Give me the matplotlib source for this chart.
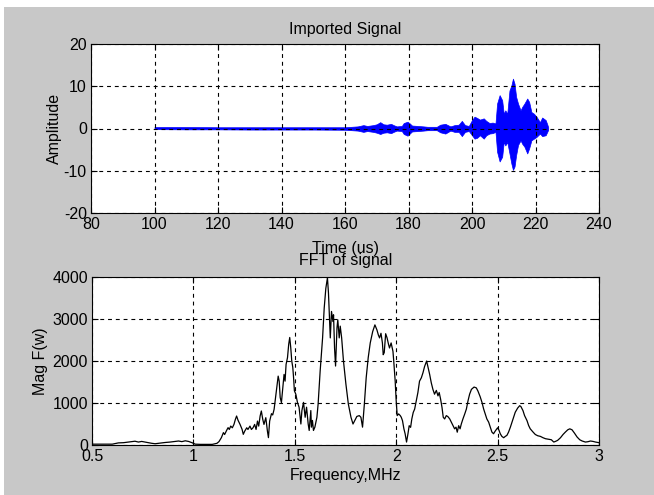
import numpy as np
import matplotlib
matplotlib.use('Agg')
import matplotlib.pyplot as plt
from matplotlib.patches import Rectangle

plt.rcParams['font.family'] = ['Liberation Sans', 'DejaVu Sans']
plt.rcParams['axes.unicode_minus'] = False

# imported signal, read as an envelope (time in us, upper / lower amplitude)
sig_t = [100, 110, 120, 130, 140, 150, 160, 162, 164, 165.8, 167, 168.9, 170, 171.1,
         172.1, 173.2, 174.5, 175.3, 176.3, 177.9, 178.5, 179.7, 180.4, 181.1, 183,
         184.7, 186, 188.9, 190, 191.6, 193.2, 194.5, 195.8, 196.8, 197.8, 199, 200,
         200.8, 201.6, 202.5, 203.7, 204.5, 205.5, 206.5, 207.4, 207.9, 208.7, 209.5,
         210, 210.5, 211.1, 211.8, 212.4, 212.9, 213.4, 213.9, 214.5, 215.3, 215.8,
         216.5, 217.4, 218, 218.7, 219.5, 220.3, 221.4, 222.1, 223.2, 223.7, 224]
sig_hi = [0.35, 0.35, 0.3, 0.3, 0.3, 0.3, 0.3, 0.4, 0.5, 0.8, 0.6, 0.8, 1.0, 1.5,
          1.0, 0.9, 1.1, 0.8, 0.5, 0.6, 1.3, 1.6, 1.2, 0.7, 0.6,
          0.5, 0.4, 0.4, 0.9, 1.1, 0.5, 0.8, 0.9, 1.8, 0.8, 0.6, 2.0,
          2.8, 2.5, 2.1, 2.4, 1.8, 1.3, 1.4, 1.2, 5.9, 7.9, 6.7,
          3.5, 4.3, 3.5, 9.0, 10.2, 11.8, 10.6, 7.5, 5.9, 4.3, 5.1,
          5.9, 7.1, 6.3, 3.9, 3.5, 2.8, 1.5, 2.6, 2.0, 1.0, 0.3]
sig_lo = [-0.15, -0.2, -0.2, -0.25, -0.25, -0.25, -0.3, -0.4, -0.5, -0.8, -0.6, -0.8, -1.0, -1.3,
          -1.0, -0.9, -1.1, -0.8, -0.5, -0.6, -1.3, -1.7, -1.2, -0.7, -0.6,
          -0.5, -0.4, -0.4, -0.9, -1.2, -0.5, -0.8, -0.8, -1.8, -0.8, -0.6, -1.6,
          -2.4, -2.2, -1.6, -2.4, -1.6, -1.2, -1.1, -0.8, -5.5, -7.8, -6.7,
          -3.2, -4.0, -3.2, -5.9, -8.3, -9.8, -9.0, -6.3, -3.9, -2.8, -3.6,
          -4.3, -5.9, -4.7, -2.8, -2.4, -2.0, -1.2, -1.8, -1.6, -0.8, -0.3]

# FFT magnitude (MHz, Mag F(w))
fft_f = [0.50, 0.55, 0.60, 0.63, 0.655, 0.688, 0.712, 0.729, 0.745, 0.762, 0.778, 0.795,
         0.811, 0.836, 0.861, 0.885, 0.910, 0.927, 0.943, 0.960, 0.976, 0.993, 1.009,
         1.034, 1.093, 1.116, 1.126, 1.138, 1.148, 1.154, 1.164, 1.171, 1.177, 1.184,
         1.192, 1.200, 1.207, 1.213, 1.220, 1.230, 1.240, 1.246, 1.253, 1.263, 1.269,
         1.279, 1.286, 1.294, 1.302, 1.309, 1.316, 1.322, 1.329, 1.335, 1.342, 1.348,
         1.357, 1.365, 1.370, 1.376, 1.385, 1.391, 1.398, 1.404, 1.411, 1.418, 1.423,
         1.428, 1.434, 1.441, 1.447, 1.452, 1.457, 1.464, 1.470, 1.475, 1.480, 1.485,
         1.490, 1.494, 1.498, 1.505, 1.513, 1.521, 1.530, 1.535, 1.543, 1.551, 1.558,
         1.566, 1.571, 1.579, 1.582, 1.587, 1.592, 1.599, 1.609, 1.615, 1.625, 1.637,
         1.645, 1.653, 1.661, 1.666, 1.675, 1.681, 1.688, 1.691, 1.696, 1.701, 1.708,
         1.712, 1.719, 1.724, 1.731, 1.740, 1.752, 1.764, 1.777, 1.787, 1.796, 1.806,
         1.818, 1.826, 1.834, 1.843, 1.852, 1.862, 1.872, 1.884, 1.895, 1.905, 1.912,
         1.918, 1.925, 1.932, 1.936, 1.941, 1.948, 1.955, 1.962, 1.967, 1.975, 1.984,
         1.988, 1.995, 2.000, 2.005, 2.012, 2.020, 2.025, 2.031, 2.038, 2.044, 2.051,
         2.058, 2.064, 2.071, 2.077, 2.084, 2.091, 2.099, 2.107, 2.115, 2.124, 2.132,
         2.140, 2.150, 2.156, 2.165, 2.173, 2.181, 2.189, 2.198, 2.206, 2.212, 2.219,
         2.226, 2.232, 2.239, 2.247, 2.255, 2.264, 2.272, 2.280, 2.288, 2.295, 2.301,
         2.308, 2.315, 2.321, 2.329, 2.338, 2.346, 2.354, 2.362, 2.371, 2.384, 2.395,
         2.403, 2.414, 2.423, 2.431, 2.439, 2.447, 2.456, 2.464, 2.472, 2.480, 2.488,
         2.500, 2.507, 2.513, 2.521, 2.530, 2.538, 2.546, 2.554, 2.563, 2.571, 2.579,
         2.587, 2.599, 2.609, 2.615, 2.625, 2.633, 2.645, 2.653, 2.661, 2.675, 2.686,
         2.698, 2.711, 2.724, 2.736, 2.752, 2.765, 2.777, 2.785, 2.796, 2.810, 2.823,
         2.834, 2.846, 2.856, 2.867, 2.879, 2.892, 2.905, 2.917, 2.933, 2.945, 2.958,
         2.971, 2.983, 2.994, 3.000]
fft_mag = [20, 20, 20, 50, 55, 75, 90, 70, 85, 70, 55, 40,
           30, 45, 60, 70, 85, 95, 80, 100, 85, 55, 20,
           15, 15, 40, 80, 175, 295, 250, 350, 413, 370, 450,
           410, 490, 610, 690, 590, 490, 373, 254, 330, 410, 370,
           450, 370, 410, 490, 370, 570, 450, 690, 810, 610, 490,
           650, 330, 175, 570, 746, 715, 850, 1090, 1365, 1640, 1520,
           1130, 1010, 1365, 1680, 1520, 1920, 2080, 2400, 2560, 2320, 2000,
           1850, 1600, 1290, 1210, 1015, 900, 500, 820, 1015, 660, 900,
           500, 346, 820, 425, 585, 346, 425, 660, 976, 1760, 2550,
           3260, 3730, 3980, 3620, 2550, 3180, 2940, 3100, 2310, 1880, 2790,
           2980, 2550, 2830, 2550, 2000, 1450, 976, 660, 500, 585, 680,
           700, 660, 425, 976, 1600, 2080, 2430, 2700, 2860, 2740, 2620,
           2550, 2660, 2430, 2150, 2200, 2650, 2550, 2400, 2310, 2430, 2230,
           1990, 1520, 1050, 700, 740, 700, 660, 580, 385, 267, 70,
           267, 460, 420, 620, 776, 855, 1050, 1250, 1520, 1600, 1720,
           1870, 2000, 1870, 1680, 1480, 1325, 1210, 1300, 1170, 1250, 1090,
           890, 660, 620, 700, 675, 620, 540, 460, 385, 425, 305,
           460, 385, 500, 620, 740, 855, 1050, 1210, 1325, 1380, 1360,
           1285, 1150, 1015, 860, 740, 620, 543, 425, 307, 268, 330,
           410, 350, 270, 205, 173, 205, 230, 307, 425, 543, 660,
           780, 880, 936, 915, 820, 700, 580, 464, 385, 307, 250,
           220, 205, 173, 150, 135, 125, 70, 85, 110, 173, 252,
           307, 362, 385, 362, 283, 190, 125, 95, 70, 78, 95,
           85, 70, 62, 55]

W, H = 654, 495
fig = plt.figure(figsize=(W / 100, H / 100), dpi=100, facecolor='white')
fig.patches.append(Rectangle((4 / W, 0), 1, 1 - 7 / H, transform=fig.transFigure,
                             facecolor='#c8c8c8', edgecolor='none', zorder=-1))

fs = 11.5
grid_style = dict(color='k', linestyle=(0, (3.5, 3.5)), linewidth=0.8)


def matlab_axes(ax):
    ax.set_facecolor('white')
    ax.tick_params(direction='in', top=True, right=True, length=4, width=0.8,
                   labelsize=fs, colors='k', pad=3)
    ax.grid(True, **grid_style)
    for s in ax.spines.values():
        s.set_linewidth(0.8)
        s.set_color('k')


ax1 = fig.add_axes([91 / W, 1 - 213 / H, 508 / W, 169 / H])
matlab_axes(ax1)
ax1.fill_between(sig_t, sig_lo, sig_hi, color='#0000ff', linewidth=0.5, edgecolor='#0000ff')
ax1.set_xlim(80, 240)
ax1.set_ylim(-20, 20)
ax1.set_xticks(np.arange(80, 241, 20))
ax1.set_yticks([-20, -10, 0, 10, 20])
ax1.set_title('Imported Signal', fontsize=fs, pad=7)
ax1.set_xlabel('Time (us)', fontsize=fs, labelpad=6)
ax1.set_ylabel('Amplitude', fontsize=fs, labelpad=1.5)

ax2 = fig.add_axes([92 / W, 1 - 445 / H, 507 / W, 168 / H])
matlab_axes(ax2)
ax2.plot(fft_f, fft_mag, color='k', linewidth=0.9)
ax2.set_xlim(0.5, 3)
ax2.set_ylim(0, 4000)
ax2.set_xticks([0.5, 1, 1.5, 2, 2.5, 3])
ax2.set_xticklabels(['0.5', '1', '1.5', '2', '2.5', '3'])
ax2.set_yticks([0, 1000, 2000, 3000, 4000])
ax2.set_title('FFT of signal', fontsize=fs, pad=9)
ax2.set_xlabel('Frequency,MHz', fontsize=fs, labelpad=3)
ax2.set_ylabel('Mag F(w)', fontsize=fs, labelpad=3)

fig.savefig('out.png', dpi=100, facecolor=fig.get_facecolor())
